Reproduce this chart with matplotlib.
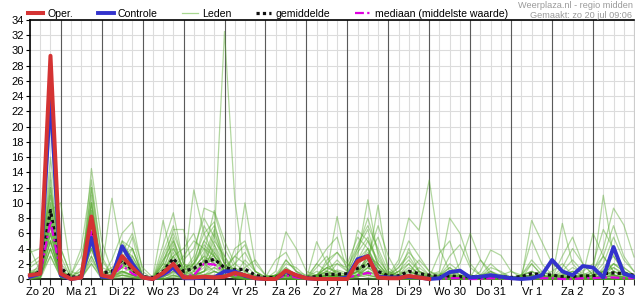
import numpy as np
import matplotlib
matplotlib.use('Agg')
import matplotlib.pyplot as plt
from matplotlib.lines import Line2D

plt.rcParams['font.family'] = ['Liberation Sans', 'DejaVu Sans']

# dagen (label op 12 uur) en 6-uurlijkse neerslag (mm), start zo 20 06:00
dagen = ['Zo 20', 'Ma 21', 'Di 22', 'Wo 23', 'Do 24', 'Vr 25', 'Za 26', 'Zo 27',
         'Ma 28', 'Di 29', 'Wo 30', 'Do 31', 'Vr 1', 'Za 2', 'Zo 3']

oper = [0.5, 0.7, 29.3, 0.7, 0.0, 0.2, 8.2, 0.5, 0.2, 3.0, 1.5, 0.2, 0.0, 0.8, 2.0, 0.2,
        0.2, 0.3, 0.2, 0.3, 0.8, 0.5, 0.1, 0.0, 0.0, 1.1, 0.5, 0.1, 0.0, 0.0, 0.0, 0.0,
        2.3, 3.0, 0.2, 0.1, 0.1, 0.4, 0.2, 0.0]

controle = [0.3, 0.7, 24.3, 0.5, 0.0, 0.2, 5.4, 0.3, 0.2, 4.3, 2.0, 0.2, 0.0, 0.6, 1.5, 0.1,
            0.1, 0.2, 0.2, 1.0, 1.0, 0.4, 0.1, 0.0, 0.0, 1.0, 0.5, 0.1, 0.0, 0.0, 0.0, 0.2,
            2.6, 3.0, 0.3, 0.2, 0.2, 0.3, 0.2, 0.0, 0.1, 0.9, 1.1, 0.2, 0.3, 0.5, 0.3, 0.1,
            0.0, 0.1, 0.5, 2.5, 1.0, 0.5, 1.7, 1.5, 0.2, 4.2, 0.7, 0.3]

gemiddelde = [0.3, 1.0, 9.0, 1.5, 0.2, 0.4, 6.8, 0.8, 1.0, 2.5, 1.2, 0.3, 0.2, 1.0, 2.7, 1.0,
              1.4, 2.2, 2.6, 1.5, 1.2, 1.3, 0.5, 0.2, 0.2, 0.8, 0.4, 0.2, 0.3, 0.6, 0.6, 0.7,
              1.4, 1.9, 1.0, 0.4, 0.4, 1.0, 0.7, 0.5, 0.3, 0.4, 0.3, 0.3, 0.2, 0.3, 0.3, 0.2,
              0.3, 0.7, 0.6, 0.5, 0.3, 0.3, 0.4, 0.4, 0.7, 0.8, 0.7, 0.5]

mediaan = [0.2, 0.6, 7.6, 0.8, 0.1, 0.2, 6.2, 0.4, 0.3, 1.8, 0.7, 0.1, 0.0, 0.5, 1.2, 0.4,
           0.5, 2.0, 1.9, 1.0, 0.5, 0.5, 0.1, 0.0, 0.0, 0.5, 0.2, 0.0, 0.1, 0.1, 0.1, 0.2,
           0.5, 0.8, 0.4, 0.1, 0.1, 0.2, 0.2, 0.1, 0.0, 0.1, 0.1, 0.0, 0.0, 0.1, 0.1, 0.0,
           0.0, 0.1, 0.1, 0.1, 0.0, 0.0, 0.1, 0.1, 0.2, 0.2, 0.1, 0.1]

# ensembleleden, per dag gegroepeerd
leden_txt = [
    "0.2 1.0 12 | 1.5 0.1 0.3 8 | 0.5 1.0 3.0 1.5 | 0.2 0 1.0 3.5 | 1.0 2.0 4.5 3.0 | 1.0 0.5 0.2 0 | 0 0 1.0 0.3 | 0 0 0.5 1.2 | 0.8 2.5 4.0 1.0 | 0.2 0.5 1.5 0.8 | 0.2 0 0.3 0.1 | 0 0.5 0.8 0.2 | 0 0 0.3 0.5 | 0.2 0.8 0.3 0 | 0.5 1.2 0.6 0.2 | 0",
    "0.5 0.8 6 | 0.3 0 0.5 10 | 0.8 0.5 5.0 2.5 | 0.3 0 2.0 5.5 | 0.5 1.5 3.0 6.5 | 2.0 1.0 0.5 0.2 | 0 0 2.5 1.0 | 0.1 0.5 1.5 0.8 | 0.3 0.5 1.0 0.2 | 0 0.2 0.8 2.5 | 1.0 0.3 0 0 | 0 0.2 1.0 0.5 | 0 0 0 0.2 | 0.5 0.3 0 0 | 0 0.5 2.0 1.0 | 0.3",
    "1.5 2.5 9 | 0.8 0.2 0 4 | 0.2 2.5 6.0 7.5 | 1.0 0 0.5 1.5 | 0.2 0.5 1.0 2.0 | 1.5 3.0 4.5 1.0 | 0 0.5 0.2 0 | 0 1.5 3.0 0.5 | 0 0.5 2.0 0.8 | 0.1 0 0 0.5 | 0.3 0.8 0.2 0 | 0 0 0 0 | 0 0.2 0.5 0.3 | 0 0 0 0.5 | 1.2 3.0 1.0 0.2 | 0",
    "0 0.2 4 | 0.2 0 0 2.5 | 0.3 0.2 1.0 0.5 | 0 0 3.0 6.0 | 2.5 4.0 8.0 5.5 | 2.0 0.5 0 0 | 0 0 0 0 | 0 0 0.5 2.0 | 1.5 4.0 6.5 1.5 | 0.3 1.0 2.0 0.5 | 0 0 0 0 | 0 0 0.5 0.3 | 0 0.5 1.0 0.2 | 0 0 0 0 | 0 0.3 0.5 0 | 0",
    "0.3 1.5 14 | 2.0 0.5 1.0 12 | 1.0 10.6 3.0 1.0 | 0.1 0 0.5 1.0 | 0.2 0.5 1.5 4.0 | 1.0 0.2 0 0 | 0.2 0.5 0.5 0 | 0 0 0 0.3 | 0.5 1.0 0.5 0.2 | 0 0.5 1.2 0.3 | 0 0 0 0 | 0 0 0 0.5 | 1.0 0.5 0.2 0 | 0 0 0.5 0.3 | 0.2 0 0 0 | 0",
    "0.1 0.5 7 | 0.5 0 0.2 6 | 0.3 0.5 2.0 1.0 | 0.2 0 4.5 8.7 | 2.0 0.5 1.0 2.5 | 1.5 0.5 0.3 0.1 | 0 0.5 1.5 0.5 | 0 0 0.2 0.5 | 0.2 3.0 10.4 3.0 | 0.5 0.2 0.5 1.5 | 0.5 0 0 0 | 0 0 0 0 | 0.2 0.5 2.0 0.5 | 0 0 0 0 | 0 0.5 1.5 0.5 | 0.2",
    "3.5 4.0 11 | 4.0 0.5 3.0 9 | 1.5 1.0 1.5 4.0 | 0.5 0 1.5 2.5 | 1.0 11.7 6.0 3.0 | 1.0 0 0 0 | 0 0 0.3 0.2 | 0 0.2 0.5 0.3 | 0 0.3 0.5 0.2 | 0 0.2 0.5 0.2 | 0 0.3 0.2 0 | 0 0 0.2 0.3 | 0 0 0.2 0 | 0 0.2 0.3 0 | 0 0.2 0.3 0 | 0",
    "0.5 2.0 20.5 | 1.0 0.2 1.5 7 | 0.5 0.3 4.0 2.0 | 0.2 0 0 0.5 | 0 1.0 3.5 9.0 | 5.0 2.0 1.0 0.2 | 0 0.3 0.5 0.2 | 0 0.5 2.0 3.5 | 2.0 5.5 4.0 1.0 | 0.2 0 0 0 | 0 0 0.5 1.0 | 0.5 0.2 0 0 | 0 0 0 0 | 0 0 0 0 | 0.5 1.0 0.5 0 | 0",
    "0 0 3 | 0.2 0 0 3 | 0.2 0 0.5 0.2 | 0 0 1.0 2.0 | 0.5 0.2 2.0 5.5 | 32.5 10.5 0.5 0 | 0 0 0 0 | 0 0 0.3 0.5 | 0.3 1.0 2.5 1.0 | 0.3 1.5 3.5 2.0 | 0.5 0 0 0 | 0 1.0 3.8 3.1 | 1.0 0.2 0 0 | 0 0 0 0 | 0 0 0 0 | 0",
    "2.0 3.0 5 | 0.5 0 0.5 4.5 | 0.5 0.2 3.5 6.0 | 1.5 0.2 0.5 0.5 | 0.2 2.0 5.0 7.0 | 3.0 1.0 10.0 2.0 | 0.5 0.2 0.5 0 | 0 0 0 0 | 0.2 0.5 2.0 9.7 | 1.0 0.3 0 0 | 0 0 0 0 | 0 0 0 0 | 0 0 0 0 | 0.3 1.5 4.0 2.0 | 0.5 0 0 0 | 0",
    "0.2 0.5 8 | 1.0 0.2 0.5 5 | 0.8 1.5 2.5 1.0 | 0.2 0 2.5 4.0 | 1.5 0.5 0.2 1.0 | 0.5 0.2 0 0 | 0 1.0 6.2 4.0 | 1.0 0.5 0 0 | 0 0 0 0 | 0 0 0 0 | 0 0.5 2.0 1.0 | 0.2 0 0.5 0.3 | 0 0 7.7 4.9 | 2.0 1.0 0.5 0 | 0 0 0 0 | 0",
    "0.5 1.0 10 | 0.8 0.2 0.2 14.5 | 5.0 1.0 1.0 0.5 | 0 0 0 0.5 | 0.2 0 0.5 1.5 | 1.0 2.0 3.5 1.0 | 0.2 0 0 0 | 0 2.0 4.0 5.5 | 1.0 0.5 0.2 0 | 0 0 0 0 | 0 0 0 0 | 0 0 0 0 | 0 0 0 0 | 0 0 0 0 | 0 0.5 2.0 1.5 | 0.5",
    "0 0.3 5 | 0.2 0 0 2 | 0.2 0.5 1.5 3.0 | 0.5 0 0 0.2 | 0 0.2 1.0 4.5 | 2.0 0.5 0.2 0 | 0 0 0 0 | 0 0 0 0 | 0 0.2 1.0 0.5 | 0.5 2.5 8.0 6.4 | 13 4.0 1.0 0 | 0 0 0 0 | 0 0 0 0 | 0 0 0 0 | 0 0 0 0 | 0",
    "0.8 1.2 12 | 3.0 0 0.5 8 | 0.5 0.2 0.5 0.2 | 0 0 1.0 3.0 | 0.5 0 0.5 1.0 | 0.5 0.3 0 0 | 0 0 0 0 | 0 0.5 1.0 0.5 | 0 0.3 1.5 0.5 | 0 0 0 0 | 0 0 0.5 2.0 | 6.0 2.5 0.5 0 | 0 0 0 0.5 | 1.0 2.0 0.5 0 | 1.0 4.0 9.3 7.1 | 2.9",
    "0.2 0.5 6 | 0.5 0 0 10 | 0.5 0.2 2.0 5.5 | 0.3 0 0.2 1.0 | 0.5 0.5 2.5 3.0 | 0.5 0.2 0 0 | 0 0.2 1.5 0.5 | 0 0.3 0.8 0.3 | 0.2 1.0 3.0 2.0 | 0.5 0.3 0.5 0.2 | 0 0.5 1.5 0.5 | 0.2 0.3 0.2 0 | 0 0.3 0.5 1.0 | 0.5 0.2 0 0 | 0 1.5 3.0 1.0 | 0.5",
    "1.0 0.5 9 | 10 1.0 0.5 6 | 0.3 0.5 1.0 0.5 | 0.2 0.2 7.7 2.0 | 0.5 0.3 0.2 0.5 | 0.2 4.0 5.0 1.0 | 0.3 0.5 0.8 0.2 | 0 0 0.5 0.2 | 0 0.5 1.5 1.0 | 0.3 0.5 2.0 0.5 | 0.2 3.4 5.0 1.0 | 0.3 0 0 0 | 0 0.5 1.0 0.3 | 0 0 0.5 0.2 | 0 0.5 1.0 0.5 | 0.2",
    "0.3 0.2 4 | 0.5 0.5 4.0 13 | 2.5 0.5 0.5 0.3 | 0 0 0.5 1.5 | 3.0 5.0 4.0 2.0 | 0.5 0.2 0.3 0.5 | 0.2 0.5 0.3 0 | 0.2 1.0 0.5 0.3 | 0.5 6.4 5.0 2.5 | 0.8 0.3 0.2 0.2 | 0 0.2 0.5 0.3 | 0 0 0.5 0.2 | 0 0 0.3 0.5 | 0.2 7.3 2.0 0.5 | 0.3 0.5 0.2 0 | 0",
    "0 0.5 7 | 0.2 0 0.3 3 | 0.2 0.3 0.8 0.5 | 0.2 0 2.0 6.5 | 6.5 1.0 0.5 0.5 | 0.3 0.5 1.5 2.5 | 0.5 0.2 0.5 0.2 | 0 4.9 2.0 0.5 | 0.2 0.3 1.0 0.5 | 0 0 0 0.3 | 0.5 1.0 8.0 6.0 | 2.0 0.5 0.2 0 | 0 0 0 0 | 0 0.2 0.5 0.3 | 0.2 0.3 0.5 0.2 | 0",
    "0.5 1.0 13 | 1.0 0 0.2 11 | 0.5 0.3 2.5 1.5 | 0.3 0 0.5 2.0 | 1.0 3.0 9.3 8.7 | 4.0 1.5 0.5 0.2 | 0 0 0.3 0.2 | 0 0.2 0.5 0.2 | 0.3 1.5 4.0 1.5 | 0.2 1.0 0.5 0.2 | 0 0 0 0 | 0.5 0.3 0 0 | 0 0 0.2 0 | 0 0.3 1.0 0.5 | 0.8 11.0 3.0 1.0 | 0.3",
    "0.2 0.3 5 | 0.3 0 0 4 | 0.3 0.5 1.0 0.5 | 0 0 0.3 0.8 | 0.2 0.5 0.5 1.0 | 0.5 0.2 0 0 | 0 0.5 1.0 0.5 | 0.3 0.5 1.0 8.2 | 2.0 1.0 0.5 0.2 | 0 0.5 4.0 1.0 | 0.5 0 0.2 0.5 | 0.2 0 0 0 | 0 0 0 0 | 0 0 0.3 0.5 | 0.5 0.8 0.5 0.2 | 0",
    "4.0 1.0 8 | 0.5 0.2 0 7 | 0.5 0.5 0.8 1.5 | 0.3 0 0.5 4.0 | 1.5 2.0 7.0 4.5 | 1.0 3.0 2.0 0.5 | 0.2 2.5 3.5 1.0 | 0.5 0.5 0.2 0.5 | 0.3 2.5 5.0 2.0 | 0.5 0.2 0 0 | 0 0.2 0.5 0.2 | 0 0 0 0 | 0.2 0.5 0 0 | 0 0 0 0.2 | 0.5 2.0 5.5 2.5 | 1.0",
    "0 0.2 4 | 0.2 0 0.5 9 | 0.5 0.2 0.5 0.5 | 0 0 0.2 1.0 | 0.5 1.0 2.0 2.5 | 1.5 0.5 0.2 0 | 0 0.3 0.5 0.2 | 0 0.2 2.5 3.5 | 1.5 4.5 7.0 4.0 | 1.0 0.5 0.3 0 | 0 0.5 1.0 0.3 | 0 0 0.3 0.5 | 0.2 0.5 0.3 0 | 0 0 0.2 0.5 | 6.0 3.0 1.0 0.5 | 0.2",
    "1.0 1.5 10 | 1.5 0 0.5 6 | 0.5 1.0 4.0 3.0 | 0.5 0 0.5 3.0 | 0.5 0.5 1.0 1.5 | 0.5 0.2 0.5 0.5 | 0.2 0.5 0.3 0.2 | 0 0.3 0.5 0.2 | 0.2 0.5 3.0 7.0 | 3.0 0.5 1.0 0.5 | 0.2 0 0 0.2 | 0.5 0.3 0.2 0 | 0 0 0.2 0 | 0 0 0.3 0.2 | 0 0.2 0.5 0.3 | 0",
    "0.2 0.5 3 | 0.2 0 0.2 2 | 0 0 0.2 0.2 | 0 0 0 0.3 | 0.3 0.5 1.0 3.5 | 1.0 0.5 0.2 0 | 0 0 0.5 0.5 | 0 0 0.3 0.5 | 0.2 0.5 1.5 0.5 | 0.2 0.3 0.2 0.2 | 0.2 0.5 0.2 0 | 0 0.5 1.0 0.2 | 0 0 2.0 0.5 | 0.3 0.2 0 0 | 0 0 0 0.3 | 0.5",
    "0.5 0.8 16 | 4.0 0.5 0.2 8 | 0.3 0.5 1.5 1.0 | 0.2 0 1.0 5.0 | 2.0 1.0 2.5 6.0 | 2.5 1.0 0.5 0.2 | 0 0 0.5 0.2 | 0 0.5 0 0 | 0 1.5 2.0 0.5 | 0 0.2 0.3 0 | 0 0.2 0 0 | 0 0.2 0.3 0 | 0 0 0.2 0 | 0 0.3 0.2 0 | 0 0.2 0.3 0 | 0",
    "0.2 1.0 7 | 0.5 0 0 5 | 0.2 0.3 2.0 2.5 | 0.3 0 0.5 2.0 | 0.8 1.5 3.0 2.0 | 1.0 1.5 0.5 0.2 | 0.1 0.3 2.0 1.5 | 0.3 0.5 1.5 2.0 | 1.0 2.0 3.5 1.5 | 0.5 0.3 0.5 1.0 | 0.5 0.2 0.3 0.5 | 0.3 0.5 2.0 0.8 | 0.2 0.3 1.0 0.5 | 0.2 0.5 1.5 0.8 | 0.3 1.0 0.5 0.2 | 0",
    "0.3 0.5 9 | 1.0 0.3 0.5 12 | 3.0 0.5 5.0 4.0 | 0.5 0 2.0 1.5 | 0.5 2.0 4.0 3.0 | 1.0 0.5 2.5 1.0 | 0.2 0.2 1.0 0.5 | 0.2 0.3 0.5 1.0 | 0.5 0.8 2.5 1.0 | 0.3 1.0 2.5 1.0 | 0.3 0.2 0.5 0.3 | 0.3 0.2 0.2 0.2 | 0 0.5 5.1 2.0 | 0.5 0.5 0.3 0.2 | 0.5 1.0 1.5 0.8 | 0.3",
    "0.5 0.5 6 | 0.8 0.2 0.2 6 | 0.3 0.2 3.0 1.5 | 0.2 0 1.5 4.5 | 1.0 0.5 2.0 5.0 | 3.0 0.5 0.3 0.2 | 0 0.2 0.8 0.3 | 0 0.5 1.5 1.0 | 0.5 1.0 2.0 1.0 | 0.2 0.5 1.0 0.5 | 0.2 0.5 1.0 0.5 | 0.3 0 0.3 0.5 | 0.2 0.3 0.5 0.2 | 0.2 0.5 1.0 0.5 | 0.2 0.5 1.0 0.5 | 0.2",
    "0.3 0.8 8 | 0.5 0 0.3 7 | 0.3 0.5 1.5 2.0 | 0.2 0 2.5 5.0 | 1.0 2.5 6.0 7.5 | 2.0 0.5 0.3 0.2 | 0 0.3 1.0 0.3 | 0 0.3 1.0 2.5 | 1.0 3.5 5.5 2.0 | 0.3 2.0 5.0 3.0 | 1.0 0.5 0.3 0.2 | 0 0.3 1.5 1.0 | 0.2 0.3 0.5 0.3 | 0.3 1.0 2.5 1.0 | 2.0 6.5 4.0 1.5 | 0.5",
    "0.1 0.3 5 | 0.3 0 0.2 4 | 0.2 0.3 3.0 4.0 | 0.3 0 1.0 3.0 | 4.0 6.0 2.0 1.0 | 0.5 0.3 0.2 0 | 0 0.5 2.5 1.0 | 0.2 2.0 1.0 0.5 | 0.3 1.0 3.0 5.5 | 1.5 0.3 0.2 0 | 0 0.5 3.0 4.5 | 1.5 0.5 0.3 0.2 | 0 0.5 2.5 1.0 | 0.3 0.5 1.0 0.3 | 0.5 3.0 7.0 3.0 | 1.0",
    "0.8 1.0 11 | 1.0 0.3 1.0 10 | 1.0 0.5 2.0 1.0 | 0.2 0 3.5 7.0 | 2.0 1.5 5.0 3.5 | 1.5 0.5 1.0 0.3 | 0 0.2 0.5 0.2 | 0 0.3 0.5 0.3 | 0.5 4.0 8.0 3.5 | 0.5 1.5 3.0 1.0 | 0.2 0.3 1.5 0.5 | 0.2 2.5 1.0 0.3 | 0 0.2 0.5 0.2 | 0.2 3.0 5.5 2.0 | 0.5 1.0 2.0 1.0 | 0.3",
]
leden = [np.array(s.replace('|', ' ').split(), dtype=float) for s in leden_txt]
for k, l in enumerate(leden):
    assert len(l) == 60, (k, len(l))

tijd = 0.25 + 0.25 * np.arange(60)   # dagen sinds zo 20 00:00

fig = plt.figure(figsize=(6.35, 3.0), dpi=100)
ax = fig.add_axes([30 / 635, 21 / 300, 604 / 635, 259 / 300])

for l in leden:
    ax.plot(tijd, l, color='#55a82c', lw=0.9, alpha=0.45, zorder=3, clip_on=False)
ax.plot(tijd, gemiddelde, color='#111111', lw=2.3, ls=(0, (1, 1)), zorder=4, clip_on=False)
ax.plot(tijd, mediaan, color='#e000e0', lw=1.6, ls=(0, (4, 1.5, 1, 1.5)), zorder=5, clip_on=False)
ax.plot(tijd, controle, color='#3333cc', lw=2.8, zorder=6, clip_on=False)
ax.plot(tijd[:len(oper)], oper, color='#d43333', lw=2.9, zorder=7, clip_on=False)

ax.set_xlim(0.25, 15.0)
ax.set_ylim(0, 34)

# raster: 6-uurs lijnen licht, dagscheiding donker
ax.set_xticks(np.arange(0.25, 15.01, 0.25))
lbl = []
for x in np.arange(0.25, 15.01, 0.25):
    d = x - 0.5
    lbl.append(dagen[int(round(d))] if abs(d - round(d)) < 1e-6 and 0 <= round(d) < len(dagen) else '')
ax.set_xticklabels(lbl)
ax.set_yticks(np.arange(0, 35, 2))
ax.grid(True, color='#dcdcdc', lw=0.8, zorder=0)
ax.set_axisbelow(True)
for d in range(1, 15):
    ax.axvline(d, color='#5a5a5a', lw=0.8, zorder=1)

ax.tick_params(axis='x', length=4.5, width=0.8, color='#222222', labelsize=8, pad=1)
ax.tick_params(axis='y', length=3, width=0.8, labelsize=8, pad=1.5)
for s in ['left', 'bottom', 'top']:
    ax.spines[s].set_linewidth(1.2)
    ax.spines[s].set_color('black')
ax.spines['right'].set_color('#cccccc')
ax.spines['right'].set_linewidth(0.8)

handles = [
    Line2D([], [], color='#d43333', lw=2.9),
    Line2D([], [], color='#3333cc', lw=2.8),
    Line2D([], [], color='#a8d890', lw=0.9),
    Line2D([], [], color='#111111', lw=2.3, ls=(0, (1, 1))),
    Line2D([], [], color='#e000e0', lw=1.6, ls=(0, (4, 1.5, 1, 1.5))),
]
namen = ['Oper.', 'Controle', 'Leden', 'gemiddelde', 'mediaan (middelste waarde)']
ax.legend(handles, namen, loc='lower left', bbox_to_anchor=(-0.004, 1.004), ncol=5,
          frameon=False, fontsize=7.6, borderpad=0, borderaxespad=0, handlelength=1.5,
          handletextpad=0.4, columnspacing=2.3)

fig.text(633 / 635, 1 - 6 / 300, 'Weerplaza.nl - regio midden', ha='right', va='center',
         fontsize=6.6, color='#9a9a9a')
fig.text(632 / 635, 1 - 16 / 300, 'Gemaakt: zo 20 jul 09:06', ha='right', va='center',
         fontsize=6.6, color='#9a9a9a')

fig.savefig('out.png', dpi=100)
